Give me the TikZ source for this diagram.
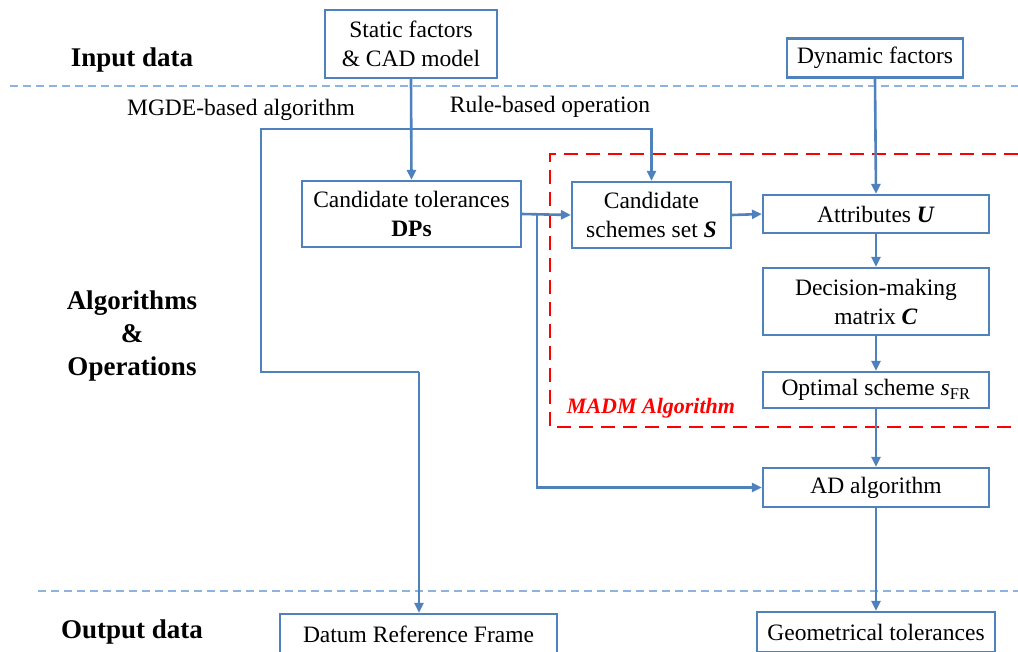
\documentclass[tikz,border=0pt]{standalone}
\usepackage{fontspec}
\setmainfont{Liberation Serif}
\usetikzlibrary{arrows.meta}
\definecolor{boxblue}{RGB}{79,129,189}
\definecolor{sepblue}{RGB}{141,179,226}
\definecolor{madmred}{RGB}{255,0,0}
\newcommand\nf{\fontsize{23.5}{29}\selectfont}
\newcommand\lbf{\fontsize{27}{33}\selectfont\bfseries}
\tikzset{
  box/.style={draw=boxblue, line width=2.2pt, fill=white, inner sep=0pt, align=center, font=\nf},
  link/.style={draw=boxblue, line width=2.6pt},
  conn/.style={link, -{Triangle[length=10pt,width=9pt]}},
  sep/.style={draw=sepblue, line width=1.5pt, dash pattern=on 8pt off 5pt},
  madm/.style={draw=madmred, line width=2.2pt, dash pattern=on 14pt off 8pt},
  lab/.style={font=\lbf, align=center, inner sep=0pt},
  txt/.style={font=\nf, inner sep=0pt}
}
\begin{document}
\begin{tikzpicture}[x=1pt,y=-1pt]
\useasboundingbox (0,0) rectangle (1018,651);
\clip (0,0) rectangle (1018,651);
% separators
\draw[sep] (10,86) -- (1018,86);
\draw[sep] (38,591) -- (1018,591);
% red MADM region
\draw[madm] (1018,154) -- (550,154) -- (550,427) -- (1018,427);
\node[font=\fontsize{22}{26}\selectfont\bfseries\itshape, text=madmred, inner sep=0pt] (madmlab) at (651,408) {MADM Algorithm};
% labels
\node[lab] (inlab) at (132,60) {Input data};
\node[lab] (alglab) at (132,336) {Algorithms\\\&\\Operations};
\node[lab] (outlab) at (132,632) {Output data};
\node[txt] (mgde) at (241,110) {MGDE-based algorithm};
\node[txt] (rule) at (550,107) {Rule-based operation};
% boxes
\node[box, minimum width=172pt, minimum height=68pt] (static) at (411,44) {Static factors\\\& CAD model};
\node[box, minimum width=176pt, minimum height=39pt] (dyn) at (875,58) {Dynamic factors};
\node[box, minimum width=219pt, minimum height=66pt] (dps) at (411.5,214) {Candidate tolerances\\\textbf{DPs}};
\node[box, minimum width=159pt, minimum height=66pt] (sch) at (651.5,215) {Candidate\\schemes set \textbf{\textit{S}}};
\node[box, minimum width=226pt, minimum height=38pt] (attr) at (876,214) {Attributes \textbf{\textit{U}}};
\node[box, minimum width=226pt, minimum height=67pt] (dm) at (876,301.5) {Decision-making\\matrix \textbf{\textit{C}}};
\node[box, minimum width=226pt, minimum height=36pt] (opt) at (876,390) {Optimal scheme \textit{s}\textsubscript{FR}};
\node[box, minimum width=226pt, minimum height=39pt] (ad) at (876,487.5) {AD algorithm};
\node[box, minimum width=277pt, minimum height=40pt] (drf) at (418.5,634) {Datum Reference Frame};
\node[box, minimum width=238pt, minimum height=40pt] (geo) at (876,632) {Geometrical tolerances};
% connectors
\coordinate (j) at (411,129);
\coordinate (jl) at (261,129);
\coordinate (bl) at (261,372);
\coordinate (br) at (419,372);
\coordinate (b) at (537,214);
\draw[conn] (static.south) -- (dps.north);
\draw[conn] (j) -| (sch.north);
\draw[link, line join=miter] (j) -- (jl) -- (bl) -- (br);
\draw[conn] (br) -- (br |- drf.north);
\draw[conn] (dps.east) -- (sch.west);
\draw[conn] (b) |- (ad.west);
\draw[conn] (sch.east) -- (attr.west);
\draw[conn] (dyn.south) -- (attr.north);
\draw[conn] (attr.south) -- (dm.north);
\draw[conn] (dm.south) -- (opt.north);
\draw[conn] (opt.south) -- (ad.north);
\draw[conn] (ad.south) -- (geo.north);
\end{tikzpicture}
\end{document}
